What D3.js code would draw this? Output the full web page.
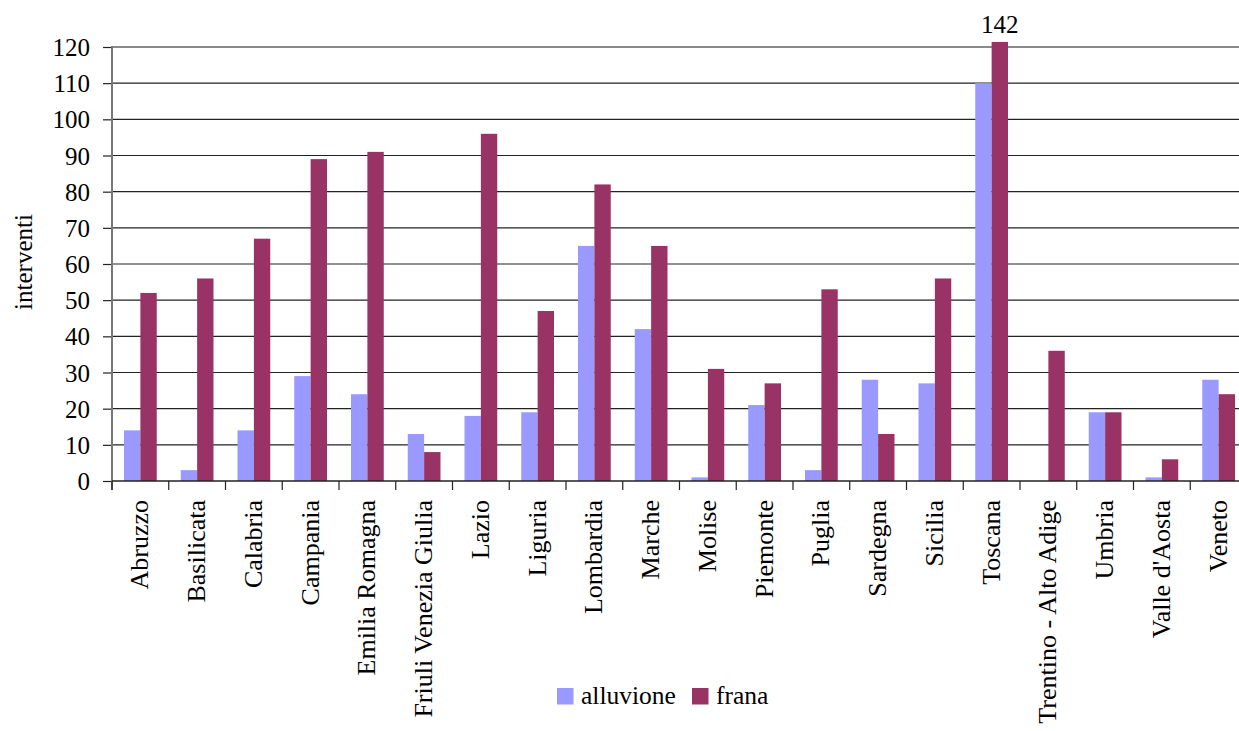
<!DOCTYPE html>
<html>
<head>
<meta charset="utf-8">
<script src="https://cdn.jsdelivr.net/npm/d3@7"></script>
<style>
  html, body { margin: 0; padding: 0; background: #fff; }
  svg { display: block; }
</style>
</head>
<body>
<svg id="chart" width="1239" height="731"></svg>
<script>
const categories = ["Abruzzo","Basilicata","Calabria","Campania","Emilia Romagna","Friuli Venezia Giulia","Lazio","Liguria","Lombardia","Marche","Molise","Piemonte","Puglia","Sardegna","Sicilia","Toscana","Trentino - Alto Adige","Umbria","Valle d'Aosta","Veneto"];
const seriesNames = ["alluvione","frana"];
const alluvione = [14,3,14,29,24,13,18,19,65,42,1,21,3,28,27,110,0,19,1,28];
const frana = [52,56,67,89,91,8,96,47,82,65,31,27,53,13,56,142,36,19,6,24];
const yTicks = [0,10,20,30,40,50,60,70,80,90,100,110,120];
const colors = ["#9999FF","#993366"];

const FONT = "'Liberation Serif', 'Times New Roman', serif";
const svg = d3.select("#chart");
const mLeft = 112, mRight = 1247, mTop = 47, mBottom = 481;
const yMax = 120, overflowMax = 121.4;

const x = d3.scaleBand().domain(categories).range([mLeft, mRight]).padding(0);
const xs = d3.scaleBand().domain(seriesNames).range([12, x.bandwidth() - 12]).padding(0);
const y = d3.scaleLinear().domain([0, yMax]).range([mBottom, mTop]);

// gridlines
svg.append("g").selectAll("line").data(yTicks.filter(t => t > 0 && t < yMax)).join("line")
  .attr("x1", mLeft).attr("x2", mRight)
  .attr("y1", d => y(d)).attr("y2", d => y(d))
  .attr("stroke", "#222").attr("stroke-width", 1.2);
// top border line
svg.append("line").attr("x1", mLeft).attr("x2", mRight).attr("y1", y(yMax)).attr("y2", y(yMax))
  .attr("stroke", "#8a8a8a").attr("stroke-width", 2);

// bars
const data = categories.map((c, i) => ({c, vals: [alluvione[i], frana[i]]}));
const g = svg.append("g");
data.forEach(d => {
  d.vals.forEach((v, j) => {
    const vv = Math.min(v, overflowMax);
    g.append("rect")
      .attr("x", x(d.c) + xs(seriesNames[j]))
      .attr("width", xs.bandwidth())
      .attr("y", y(vv))
      .attr("height", y(0) - y(vv))
      .attr("fill", colors[j]);
  });
});

// overflow label
data.forEach(d => {
  d.vals.forEach((v, j) => {
    if (v > yMax) {
      svg.append("text")
        .attr("x", x(d.c) + xs(seriesNames[j]) + xs.bandwidth() / 2)
        .attr("y", 33)
        .attr("text-anchor", "middle")
        .style("font-family", FONT).style("font-size", "25px")
        .text(v);
    }
  });
});

// y axis
const yAxis = d3.axisLeft(y).tickValues(yTicks).tickSize(9).tickPadding(13);
const ya = svg.append("g").attr("transform", `translate(${mLeft},0)`).call(yAxis);
ya.attr("font-family", null).attr("font-size", null);
ya.select(".domain").remove();
ya.selectAll(".tick line").attr("stroke", "#222").attr("stroke-width", 1.2);
ya.selectAll(".tick text").style("font-family", FONT).style("font-size", "25px").attr("dy", "0.34em").attr("fill", "#000");
svg.append("line").attr("x1", mLeft).attr("x2", mLeft).attr("y1", mTop - 1).attr("y2", mBottom + 9)
  .attr("stroke", "#777").attr("stroke-width", 2);

// x axis baseline
svg.append("line").attr("x1", mLeft).attr("x2", mRight).attr("y1", mBottom).attr("y2", mBottom)
  .attr("stroke", "#222").attr("stroke-width", 1.5);
// x ticks at boundaries
svg.append("g").selectAll("line").data(categories).join("line")
  .attr("x1", d => x(d)).attr("x2", d => x(d))
  .attr("y1", mBottom).attr("y2", mBottom + 9)
  .attr("stroke", "#222").attr("stroke-width", 1.2);
// x labels
svg.append("g").selectAll("text").data(categories).join("text")
  .attr("transform", d => `translate(${x(d) + x.bandwidth() / 2 + 8},${mBottom + 19}) rotate(-90)`)
  .attr("text-anchor", "end")
  .style("font-family", FONT).style("font-size", "26px")
  .text(d => d);

// y title
svg.append("text")
  .attr("transform", `translate(32,${(mTop + mBottom) / 2 - 2}) rotate(-90)`)
  .attr("text-anchor", "middle")
  .style("font-family", FONT).style("font-size", "25px")
  .text("interventi");

// legend
const legend = svg.append("g");
const lx = [557, 692];
seriesNames.forEach((s, j) => {
  legend.append("rect").attr("x", lx[j]).attr("y", 688).attr("width", 16.5).attr("height", 16.5).attr("fill", colors[j]);
  legend.append("text").attr("x", lx[j] + 24).attr("y", 704)
    .style("font-family", FONT).style("font-size", "25.5px").text(s);
});
</script>
</body>
</html>
